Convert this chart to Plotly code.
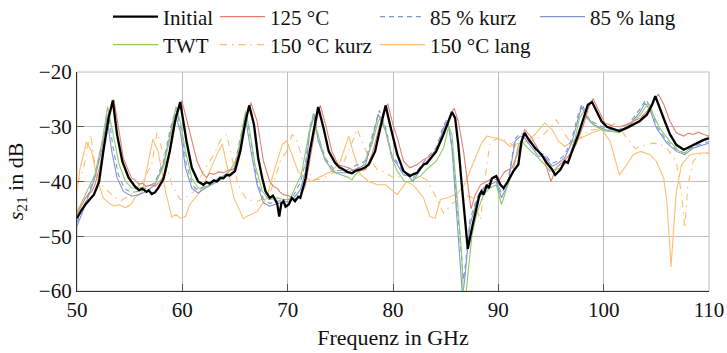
import plotly.graph_objects as go

# ---------------- data (frequency in GHz, s21 in dB) ----------------
f_initial = [50.0, 50.4, 50.8, 51.2, 51.6, 51.9, 52.1, 52.5, 53.0, 53.4, 53.8, 54.3, 54.9, 55.5, 55.9, 56.2, 56.6, 56.8, 57.1, 57.4, 57.7, 58.2, 58.8, 59.3, 59.8,
             60.4, 60.9, 61.5, 62.0, 62.3, 62.6, 63.0, 63.3, 63.6, 63.9, 64.2, 64.5, 65.0, 65.5, 66.0, 66.35, 66.8, 67.2, 67.6, 67.9, 68.3, 68.6, 68.8, 69.0, 69.2, 69.4, 69.6, 69.8,
             70.1, 70.4, 70.7, 71.0, 71.2, 71.7, 72.1, 72.6, 72.9, 73.4, 73.9, 74.5, 74.9, 75.3, 75.7, 76.1, 76.5, 76.9, 77.3, 77.7, 78.3, 78.8, 79.3, 79.7,
             80.4, 81.0, 81.6, 82.0, 82.3, 82.6, 82.9, 83.2, 83.5, 83.8, 84.1, 84.8, 85.3, 85.6, 85.9, 86.2, 86.5, 86.8, 87.1, 87.5, 87.95, 88.2, 88.4, 88.6, 88.9, 89.1, 89.4, 89.8,
             90.2, 90.5, 90.9, 91.4, 91.9, 92.2, 92.5, 92.8, 93.5, 94.1, 94.6, 95.1, 95.4, 95.9, 96.3, 96.6, 97.0, 97.6, 98.1, 98.5, 98.9, 99.3, 99.8,
             100.3, 100.6, 101.0, 101.5, 102.2, 102.8, 103.4, 104.1, 104.6, 104.9, 105.3, 105.8, 106.3, 106.9, 107.6, 108.2, 108.8, 109.5, 110.0]
s_initial = [-46.7, -45.3, -44.2, -43.3, -42.4, -41.0, -40.0, -34.5, -28.4, -25.2, -31.4, -36.3, -39.3, -40.9, -41.6, -41.3, -41.9, -41.6, -42.3, -42.0, -41.2, -39.6, -34.5, -29.0, -25.5,
             -32.7, -37.5, -40.0, -40.6, -40.1, -40.4, -39.8, -40.0, -39.3, -39.4, -38.8, -38.9, -38.1, -34.5, -29.0, -26.1, -29.6, -35.7, -39.5, -41.8, -43.0, -42.6, -43.3, -44.0, -46.4, -44.0, -43.6, -44.6,
             -44.2, -43.0, -43.6, -42.8, -43.0, -39.4, -34.5, -29.0, -26.4, -30.2, -34.5, -36.6, -37.4, -37.8, -38.3, -38.5, -38.0, -37.8, -37.5, -36.9, -34.5, -30.2, -26.1, -29.5,
             -35.0, -38.1, -39.0, -38.6, -38.4, -37.6, -36.9, -36.7, -36.0, -35.4, -34.5, -31.4, -29.0, -27.3, -28.4, -33.3, -40.0, -46.7, -52.3, -48.5, -44.2, -42.5, -41.8, -42.4, -40.6, -41.2, -39.4, -39.0,
             -40.6, -41.2, -40.0, -38.2, -36.9, -32.7, -31.1, -32.1, -33.9, -35.1, -36.6, -37.8, -38.8, -37.8, -36.3, -36.6, -34.5, -31.4, -28.4, -26.0, -25.5, -27.2, -29.0,
             -30.0, -30.2, -30.6, -30.8, -30.2, -29.6, -29.0, -27.8, -26.0, -24.4, -26.6, -29.0, -31.4, -33.3, -34.2, -33.6, -33.0, -32.4, -32.1]

f_125 = [50.0, 50.8, 51.4, 51.7, 52.2, 52.5, 53.0, 53.5, 54.0, 54.4, 54.9, 55.2, 55.5, 55.9, 56.2, 56.6, 57.1, 57.4, 57.7, 58.4, 59.0, 59.5, 59.95,
         60.7, 61.4, 61.9, 62.3, 62.6, 63.0, 63.5, 63.9, 64.4, 64.9, 65.5, 66.1, 66.5, 67.1, 67.7, 68.3, 68.6, 69.0, 69.3, 69.6,
         70.2, 70.6, 71.0, 71.3, 71.7, 72.3, 72.8, 73.1, 73.6, 74.2, 74.8, 75.3, 75.8, 76.2, 76.7, 77.4, 78.0, 78.6, 79.1, 79.5,
         80.0, 80.4, 81.0, 81.6, 82.3, 82.9, 83.5, 84.1, 84.8, 85.4, 85.8, 86.2, 86.7, 87.1, 87.4, 87.8, 88.3, 88.9, 89.5,
         90.0, 90.6, 91.3, 91.9, 92.5, 93.2, 93.8, 94.4, 95.0, 95.5, 96.2, 96.8, 97.4, 98.1, 98.7, 99.0, 99.5,
         100.1, 100.5, 100.9, 101.5, 102.2, 102.8, 103.5, 104.1, 104.7, 105.2, 105.7, 106.3, 106.9, 107.6, 108.0, 108.5, 109.0, 109.5, 110.0]
s_125 = [-46.0, -43.0, -41.8, -40.6, -37.0, -33.8, -28.0, -25.0, -30.8, -35.7, -38.1, -39.4, -39.7, -40.5, -40.3, -40.9, -40.6, -40.9, -40.3, -38.7, -33.2, -27.7, -25.2,
         -30.8, -36.3, -38.4, -39.3, -38.5, -38.7, -38.2, -38.4, -37.9, -37.8, -33.8, -28.3, -25.6, -29.0, -36.3, -40.0, -40.8, -41.2, -42.0, -42.4,
         -42.7, -43.2, -43.0, -42.4, -40.6, -33.8, -28.4, -26.1, -29.6, -34.5, -37.0, -37.2, -37.5, -37.9, -38.1, -37.8, -35.1, -30.8, -27.2, -25.8,
         -29.6, -32.0, -36.3, -37.5, -36.9, -36.0, -35.4, -34.2, -30.8, -28.1, -26.6, -29.0, -34.5, -41.0, -45.0, -42.5, -40.6, -40.0, -39.3,
         -40.0, -38.2, -37.5, -34.5, -30.5, -32.1, -34.2, -36.3, -40.0, -37.5, -36.3, -35.0, -33.2, -29.6, -25.7, -24.9, -26.9,
         -29.3, -29.6, -29.9, -30.0, -29.6, -29.0, -28.4, -27.2, -25.3, -24.1, -25.9, -29.0, -31.1, -31.7, -31.2, -31.4, -31.0, -31.4, -31.7]

f_85_kurz = [50.0, 50.8, 51.7, 52.4, 52.95, 53.4, 53.9, 54.5, 55.2, 55.9, 56.6, 57.4, 58.2, 58.9, 59.4, 59.9,
             60.4, 61.0, 61.5, 62.2, 63.0, 63.9, 64.9, 65.5, 66.05, 66.5, 67.1, 67.7, 68.3, 69.3,
             70.1, 70.6, 71.2, 71.7, 72.1, 72.5, 72.9, 73.6, 74.5, 75.5, 76.4, 77.4, 78.0, 78.7, 79.3, 79.9,
             80.4, 81.0, 81.5, 81.9, 82.4, 83.2, 84.1, 84.8, 85.15, 85.6, 86.0, 86.4, 86.7, 87.0, 87.3, 87.95, 88.6, 89.2, 89.8,
             90.3, 90.9, 91.6, 92.1, 92.5, 93.2, 93.8, 94.4, 95.1, 95.5, 96.3, 97.0, 97.6, 97.95, 98.4, 99.0,
             100.1, 100.6, 101.5, 102.5, 103.5, 104.0, 104.5, 105.0, 106.0, 106.9, 107.7, 108.5, 109.5, 110.0]
s_85_kurz = [-47.5, -43.8, -38.8, -33.0, -27.0, -33.5, -38.6, -41.3, -42.0, -41.8, -41.2, -40.2, -36.4, -30.0, -26.8, -30.5,
             -37.0, -40.8, -41.6, -40.8, -39.8, -39.0, -37.6, -32.0, -27.5, -32.5, -39.8, -43.2, -44.0, -43.5,
             -43.2, -42.4, -40.2, -36.5, -30.0, -27.3, -31.8, -35.8, -38.0, -38.0, -37.2, -36.2, -31.8, -27.0, -30.2, -35.2,
             -36.5, -38.4, -38.6, -39.4, -37.8, -35.7, -33.8, -29.8, -28.6, -33.2, -42.5, -52.0, -58.0, -53.0, -47.0, -43.0, -41.2, -40.2, -39.6,
             -42.2, -40.0, -32.2, -31.2, -31.6, -33.4, -34.9, -35.0, -36.7, -36.4, -35.2, -32.0, -27.6, -25.8, -28.0, -29.2,
             -30.2, -30.5, -30.5, -29.2, -26.6, -25.0, -26.6, -29.8, -32.6, -34.2, -34.8, -33.6, -33.0, -32.7]

f_85_lang = [50.0, 50.8, 51.7, 52.4, 52.85, 53.3, 53.8, 54.4, 55.2, 55.9, 56.6, 57.4, 58.2, 58.9, 59.3, 59.8,
             60.3, 60.9, 61.5, 62.2, 63.0, 63.9, 64.9, 65.5, 66.0, 66.4, 67.1, 67.7, 68.3, 69.3,
             70.1, 70.6, 71.2, 71.7, 72.1, 72.5, 72.9, 73.6, 74.5, 75.5, 76.4, 77.4, 78.0, 78.6, 79.3, 79.9,
             80.4, 81.0, 81.5, 81.9, 82.4, 83.2, 84.1, 84.8, 85.2, 85.6, 86.0, 86.4, 86.6, 86.8, 87.0, 87.3, 87.95, 88.6, 89.2, 89.8,
             90.3, 90.9, 91.6, 92.1, 92.5, 93.2, 93.8, 94.4, 95.1, 95.5, 96.3, 97.0, 97.6, 97.9, 98.4, 99.0,
             100.1, 100.6, 101.5, 102.5, 103.5, 103.9, 104.4, 105.0, 106.0, 106.9, 107.7, 108.5, 109.5, 110.0]
s_85_lang = [-48.2, -44.2, -39.3, -33.8, -28.4, -34.5, -39.3, -41.8, -42.7, -42.4, -41.8, -40.6, -36.9, -30.8, -27.5, -30.8,
             -37.5, -41.2, -42.1, -41.2, -40.3, -39.4, -38.1, -32.6, -28.4, -33.2, -40.6, -43.9, -44.5, -43.9,
             -43.6, -43.0, -41.5, -38.1, -30.8, -28.1, -32.6, -36.3, -38.4, -38.4, -37.8, -36.9, -32.6, -27.7, -30.8, -35.7,
             -36.9, -38.8, -39.0, -40.0, -38.4, -36.3, -34.5, -30.2, -29.0, -33.9, -44.2, -55.3, -61.0, -58.0, -54.0, -48.0, -43.6, -41.8, -40.6, -40.0,
             -43.0, -40.6, -32.6, -31.7, -32.1, -33.9, -35.4, -35.4, -37.2, -36.9, -35.7, -32.7, -28.4, -26.3, -28.4, -29.6,
             -30.5, -30.8, -30.8, -29.6, -27.2, -25.7, -26.9, -30.2, -33.0, -34.5, -35.1, -33.9, -33.3, -33.0]

f_twt = [50.0, 50.8, 51.7, 52.4, 52.9, 53.5, 54.0, 54.6, 55.2, 55.9, 56.6, 57.4, 58.2, 58.9, 59.4, 59.8,
         60.3, 60.9, 61.5, 62.0, 62.6, 63.6, 64.5, 65.2, 65.7, 66.0, 66.4, 66.9, 67.6, 68.2, 69.0, 69.6,
         70.2, 70.7, 71.3, 72.0, 72.4, 72.8, 73.4, 74.2, 75.1, 75.7, 76.1, 76.4, 77.0, 78.0, 78.6, 78.9, 79.4,
         80.0, 80.4, 81.1, 81.6, 82.6, 83.2, 84.1, 84.8, 85.3, 85.6, 86.0, 86.5, 86.7, 86.9, 87.2, 87.5, 88.0, 88.6, 89.2, 89.8,
         90.3, 90.9, 91.4, 91.9, 92.2, 92.8, 93.8, 94.4, 94.9, 95.4, 96.0, 96.6, 97.3, 97.7, 98.1, 98.5, 99.2,
         100.1, 100.6, 101.5, 102.5, 103.5, 104.2, 104.7, 105.3, 106.3, 107.2, 107.7, 108.5, 109.5, 110.0]
s_twt = [-45.6, -42.4, -38.7, -32.6, -26.3, -32.0, -36.9, -40.0, -41.2, -41.2, -40.9, -40.3, -37.5, -31.4, -26.3, -29.0,
         -34.5, -39.4, -41.2, -41.2, -40.6, -39.4, -38.1, -35.7, -30.1, -27.2, -30.8, -36.9, -41.8, -43.3, -43.0, -43.3,
         -43.3, -41.2, -38.7, -31.4, -28.1, -30.8, -35.1, -38.2, -38.8, -39.2, -39.7, -38.8, -37.8, -33.2, -29.0, -28.1, -31.4,
         -36.3, -38.1, -40.0, -40.0, -39.0, -37.8, -36.3, -33.9, -29.9, -31.4, -40.6, -52.8, -61.0, -61.0, -55.3, -49.8, -45.5, -42.4, -41.2, -40.6,
         -44.2, -40.6, -38.2, -33.3, -32.6, -33.9, -35.7, -36.9, -38.1, -37.8, -37.5, -36.3, -32.1, -28.4, -27.2, -28.4, -29.9,
         -30.8, -30.8, -31.1, -29.6, -27.8, -25.7, -27.8, -30.2, -32.7, -34.5, -34.8, -33.3, -32.4, -31.7]

f_150_kurz = [50.0, 50.6, 51.0, 51.3, 51.7, 52.3, 53.3, 54.1, 55.1, 56.2, 57.1, 57.6, 58.2, 59.0, 59.8,
              60.1, 61.1, 62.0, 63.0, 63.6, 64.2, 64.8, 65.3, 66.1, 67.2, 68.3, 69.3, 69.9,
              70.4, 70.8, 71.5, 72.5, 73.3, 74.2, 75.2, 76.1, 76.6, 77.2, 78.0, 78.5, 79.3,
              80.2, 81.3, 82.2, 83.2, 84.0, 84.8, 85.7, 86.8, 87.6, 88.3, 88.7, 89.2,
              90.0, 90.6, 91.5, 92.5, 93.3, 94.1, 95.0, 95.5, 96.2, 97.0, 97.8, 98.6, 99.5,
              100.4, 101.2, 102.2, 103.0, 103.5, 104.7, 105.4, 106.0, 106.9, 107.4, 107.7, 108.0, 108.5, 109.1, 110.0]
s_150_kurz = [-40.5, -38.0, -33.5, -31.4, -36.9, -40.5, -42.4, -43.6, -42.4, -40.0, -36.9, -31.0, -35.0, -40.6, -43.3,
              -43.3, -41.8, -38.1, -35.1, -32.5, -31.4, -36.5, -40.6, -43.3, -43.6, -42.4, -36.3, -34.5,
              -31.5, -32.0, -36.5, -39.7, -39.5, -38.5, -37.0, -33.0, -30.4, -33.5, -36.5, -37.8, -38.4,
              -39.5, -38.5, -38.8, -39.7, -42.5, -45.8, -43.9, -42.4, -43.0, -47.0, -40.0, -33.0,
              -32.0, -32.4, -33.5, -33.3, -32.5, -31.8, -30.0, -28.7, -31.0, -33.3, -32.0, -30.6, -30.5,
              -30.0, -29.3, -32.1, -34.0, -33.6, -33.0, -33.2, -33.9, -36.3, -42.4, -48.5, -40.6, -36.3, -35.1, -34.8]

f_150_lang = [50.0, 50.3, 50.9, 51.4, 51.9, 52.5, 53.0, 53.5, 54.0, 54.6, 55.1, 55.5, 56.2, 56.6, 57.2, 57.7, 58.4, 59.0, 59.4, 59.8,
              60.3, 60.7, 61.7, 62.6, 63.4, 63.8, 64.2, 64.9, 65.5, 65.8, 66.1, 66.7, 67.1, 68.0, 68.8, 69.5, 69.9,
              70.4, 71.0, 71.7, 72.3, 72.9, 73.6, 74.2, 75.0, 75.8, 76.2, 76.9, 77.7, 78.5, 79.3,
              80.0, 80.4, 81.3, 82.0, 82.9, 83.5, 84.0, 84.5, 85.1, 86.0, 86.8, 87.5, 87.95, 88.4, 88.9, 89.8,
              90.5, 91.1, 91.9, 92.8, 93.6, 94.4, 95.1, 95.7, 96.3, 97.1, 97.9, 98.9, 99.8,
              100.6, 101.1, 101.5, 102.2, 102.8, 103.5, 104.4, 105.0, 105.7, 106.0, 106.2, 106.4, 106.6, 106.9, 107.4, 108.2, 109.1, 110.0]
s_150_lang = [-41.8, -37.5, -32.8, -34.5, -39.4, -43.0, -43.9, -44.5, -44.2, -44.8, -44.2, -43.0, -41.8, -38.2, -32.3, -34.5, -41.8, -46.5, -46.0, -46.7,
              -46.4, -44.2, -41.8, -38.1, -34.5, -33.2, -36.9, -43.0, -45.5, -46.8, -46.4, -45.8, -45.5, -43.0, -37.5, -33.2, -32.6,
              -35.1, -38.2, -39.3, -40.0, -39.3, -38.7, -38.1, -36.3, -31.7, -34.5, -38.7, -40.0, -40.6, -40.6,
              -41.8, -42.4, -40.0, -40.8, -43.0, -46.4, -46.7, -43.3, -43.0, -42.4, -40.5, -37.0, -35.1, -33.0, -31.7, -32.1,
              -32.6, -33.6, -33.0, -32.6, -31.1, -29.3, -30.5, -32.6, -33.6, -32.6, -32.0, -31.1, -30.5,
              -32.6, -36.3, -38.8, -36.9, -35.1, -34.5, -35.1, -36.3, -39.4, -43.6, -49.8, -55.6, -49.8, -41.8, -36.9, -35.1, -34.8, -34.8]

x_ticks = [50, 60, 70, 80, 90, 100, 110]
y_ticks = [-60, -50, -40, -30, -20]

# ---------------- styling ----------------
FONT = "Liberation Serif"
RED = "#E5806F"
BLUE = "#7F96D4"
GREEN = "#8DCB68"
ORANGE = "#FDBF6F"

W, H = 727, 353
ML, MR, MT, MB = 77, 18, 72, 62
PW = W - ML - MR
PH = H - MT - MB

fig = go.Figure()

# (x, y, name, color, width, dash, legend id, legend left px, legend center y px)
traces = [
    (f_150_lang, s_150_lang, "150 °C lang", ORANGE, 1.1, "solid", "legend7", 375, 45),
    (f_150_kurz, s_150_kurz, "150 °C kurz", ORANGE, 1.1, "7px,5px,1.5px,5px", "legend6", 215, 45),
    (f_85_lang, s_85_lang, "85 % lang", BLUE, 1.1, "solid", "legend4", 535, 17),
    (f_85_kurz, s_85_kurz, "85 % kurz", BLUE, 1.1, "5px,4px", "legend3", 375, 17),
    (f_twt, s_twt, "TWT", GREEN, 1.1, "solid", "legend5", 108, 45),
    (f_125, s_125, "125 °C", RED, 1.1, "solid", "legend2", 215, 17),
    (f_initial, s_initial, "Initial", "#000000", 2.3, "solid", "legend", 108, 17),
]

legends = {}
for x, y, name, color, width, dash, lg, lx, ly in traces:
    fig.add_trace(go.Scatter(
        x=x, y=y, name=name, mode="lines",
        line=dict(color=color, width=width, dash=dash),
        legend=lg, showlegend=True,
    ))
    legends[lg] = dict(
        x=(lx - ML) / PW, y=1 + (MT - ly) / PH,
        xanchor="left", yanchor="middle", orientation="v",
        font=dict(family=FONT, size=21, color="#111"),
        itemwidth=45, bgcolor="rgba(0,0,0,0)", borderwidth=0,
    )

fig.update_layout(
    width=W, height=H,
    margin=dict(l=ML, r=MR, t=MT, b=MB, autoexpand=False),
    paper_bgcolor="white", plot_bgcolor="white",
    font=dict(family=FONT, size=21, color="#111"),
    showlegend=True,
    **legends,
    xaxis=dict(
        range=[50, 110], tickvals=x_ticks, ticktext=[str(v) for v in x_ticks],
        showgrid=True, gridcolor="#BEBEBE", gridwidth=1,
        showline=True, linecolor="#333", linewidth=1.3,
        ticks="inside", ticklen=7, tickcolor="#555", tickwidth=1,
        zeroline=False,
        title=dict(text="Frequenz in GHz", font=dict(family=FONT, size=22), standoff=8),
        tickfont=dict(family=FONT, size=21),
    ),
    yaxis=dict(
        range=[-60, -20], tickvals=y_ticks,
        showgrid=True, gridcolor="#BEBEBE", gridwidth=1,
        showline=True, linecolor="#333", linewidth=1.3,
        ticks="inside", ticklen=7, tickcolor="#555", tickwidth=1,
        zeroline=False,
        title=dict(text="<i>s</i><sub>21</sub> in dB", font=dict(family=FONT, size=22), standoff=9),
        tickfont=dict(family=FONT, size=21),
    ),
    shapes=[dict(type="rect", xref="paper", yref="paper", x0=0, y0=0, x1=1, y1=1,
                 line=dict(color="#BEBEBE", width=1), layer="below")],
)

fig.write_html("out.html")
